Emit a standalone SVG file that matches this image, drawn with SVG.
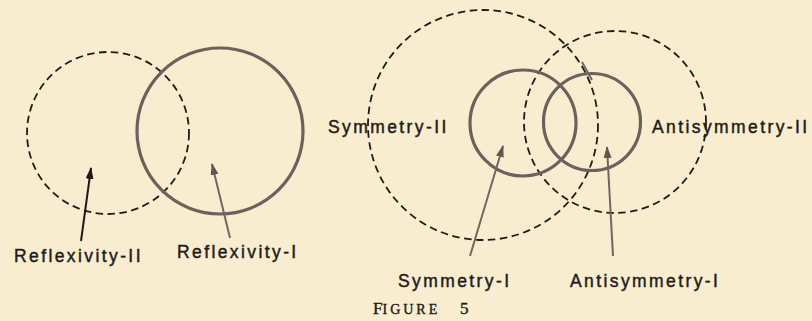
<svg xmlns="http://www.w3.org/2000/svg" width="812" height="321" viewBox="0 0 812 321">
<defs>
<style>
.dash{fill:none;stroke:#1e1c1a;stroke-width:1.8;stroke-dasharray:7.5 4.5}
.solid{fill:none;stroke:#6a625c;stroke-width:3.2}
.lbl{font-family:"Liberation Sans",Arial,sans-serif;font-size:17.5px;fill:#1e1c1a;stroke:#1e1c1a;stroke-width:0.45;letter-spacing:2.4px}
.arrB{stroke:#1e1c1a;stroke-width:2}
.arrG{stroke:#6f6862;stroke-width:2}
.cap{font-family:"Liberation Serif","Times New Roman",serif;fill:#1e1c1a;stroke:#1e1c1a;stroke-width:0.4}
</style>
<marker id="hb" viewBox="0 0 12 8" refX="11" refY="4" markerWidth="12" markerHeight="8" markerUnits="userSpaceOnUse" orient="auto"><path d="M0,0 L12,4 L0,8 Z" fill="#1e1c1a"/></marker>
<marker id="hg" viewBox="0 0 12 8" refX="11" refY="4" markerWidth="12" markerHeight="8" markerUnits="userSpaceOnUse" orient="auto"><path d="M0,0 L12,4 L0,8 Z" fill="#5f5852"/></marker>
</defs>
<rect width="812" height="321" fill="#f8eecf"/>
<g id="reflexivity-II"><circle class="dash" cx="108" cy="133" r="81"/><text class="lbl" x="14" y="262">Reflexivity-II</text></g>
<g id="reflexivity-I"><circle class="solid" cx="220" cy="131" r="83"/><text class="lbl" x="177" y="258">Reflexivity-I</text></g>
<g id="symmetry-II"><circle class="dash" cx="483" cy="125" r="115"/><text class="lbl" x="328" y="133">Symmetry-II</text></g>
<g id="antisymmetry-II"><circle class="dash" cx="615" cy="122" r="91"/><text class="lbl" x="652" y="133">Antisymmetry-II</text></g>
<g id="symmetry-I"><circle class="solid" cx="523" cy="123" r="53"/><text class="lbl" x="398" y="287">Symmetry-I</text></g>
<g id="antisymmetry-I"><circle class="solid" cx="592" cy="122" r="48.5"/><text class="lbl" x="570" y="287">Antisymmetry-I</text></g>
<g id="connectors">
<line class="arrB" x1="81" y1="241" x2="91" y2="168" marker-end="url(#hb)"/>
<line class="arrG" x1="230" y1="238" x2="212" y2="164" marker-end="url(#hg)"/>
<line class="arrG" x1="470" y1="256" x2="503" y2="146" marker-end="url(#hg)"/>
<line class="arrG" x1="613" y1="256" x2="607" y2="147" marker-end="url(#hg)"/>
<line class="arrG" x1="582" y1="62" x2="592" y2="80" stroke-width="2.5"/>
</g>
<g id="caption"><text class="cap" x="373" y="314"><tspan font-size="17">F</tspan><tspan font-size="14" letter-spacing="3">IGURE</tspan><tspan font-size="17" x="460">5</tspan></text></g>
</svg>
